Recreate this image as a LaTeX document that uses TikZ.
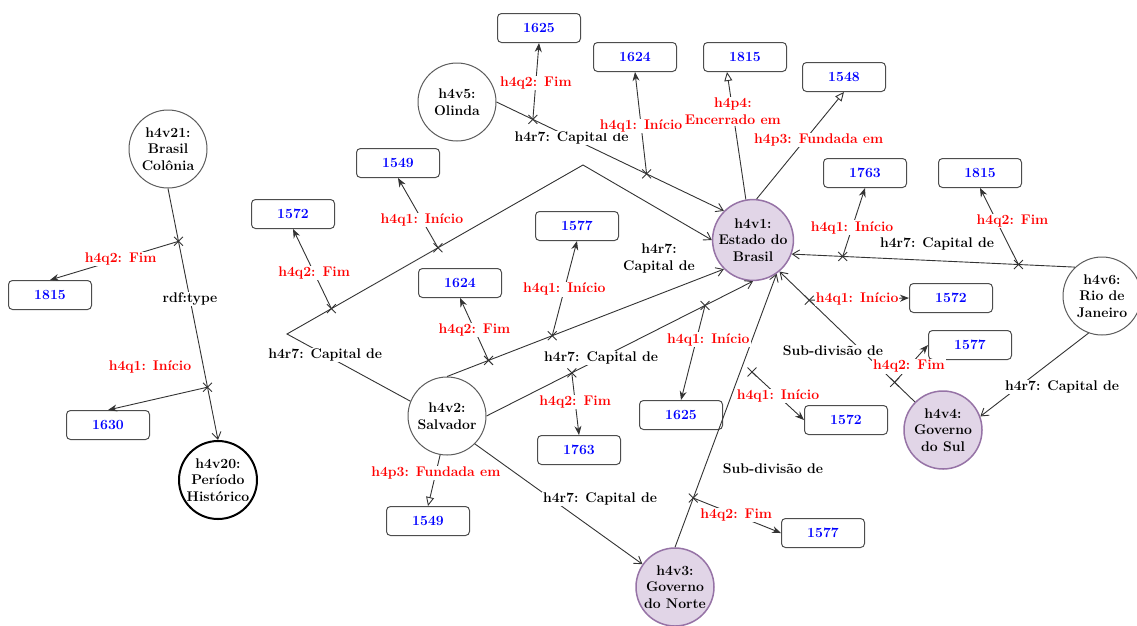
\documentclass[tikz,border=0pt]{standalone}
\usetikzlibrary{arrows.meta,calc,shapes.misc}
\definecolor{edgegray}{HTML}{333333}
\definecolor{boxgray}{HTML}{4D4D4D}
\definecolor{lilac}{HTML}{E1D5E7}
\definecolor{lilacline}{HTML}{9673A6}
\definecolor{valblue}{HTML}{0000FF}
\definecolor{qred}{HTML}{FF0000}

\begin{document}
\begin{tikzpicture}[x=1pt, y=-1pt,
  ent/.style={circle, draw=edgegray!80, line width=1pt, fill=white, minimum size=78pt, inner sep=0pt, align=center, font=\fontsize{14}{16.5}\selectfont\bfseries},
  entp/.style={ent, draw=lilacline, line width=1.5pt, fill=lilac},
  val/.style={draw=boxgray, line width=1pt, rounded corners=4pt, minimum width=83pt, minimum height=29pt, text=valblue, font=\fontsize{14}{16}\selectfont\bfseries},
  lbl/.style={fill=white, inner sep=1pt, align=center, font=\fontsize{14}{17}\selectfont\bfseries},
  qlbl/.style={lbl, text=qred},
  rel/.style={draw=edgegray, line width=0.9pt, -{Straight Barb[length=7pt,width=9pt]}},
  qual/.style={draw=edgegray, line width=0.9pt, -{Stealth[length=9pt,width=7pt]}},
  attr/.style={draw=edgegray, line width=0.9pt, -{Triangle[open,length=9pt,width=8pt]}},
  qmark/.style={cross out, draw=edgegray, line width=0.9pt, minimum size=8pt, inner sep=0pt},
]
\useasboundingbox (0,0) rectangle (1137,625);

% entities
\node[ent] (v21) at (168,149) {h4v21:\\Brasil\\Colônia};
\node[ent, draw=black, line width=2pt] (v20) at (218,480) {h4v20:\\Período\\Histórico};
\node[ent] (v5) at (457,102) {h4v5:\\Olinda};
\node[ent] (v2) at (447,416) {h4v2:\\Salvador};
\node[entp] (v1) at (753,240) {h4v1:\\Estado do\\Brasil};
\node[ent] (v6) at (1102,296) {h4v6:\\Rio de\\Janeiro};
\node[entp] (v4) at (943,430) {h4v4:\\Governo\\do Sul};
\node[entp] (v3) at (675,587) {h4v3:\\Governo\\do Norte};

% values
\node[val] (b1815a) at (50,295) {1815};
\node[val] (b1630) at (108,425) {1630};
\node[val] (b1572a) at (293,214) {1572};
\node[val] (b1549a) at (398,163) {1549};
\node[val] (b1625a) at (539,28) {1625};
\node[val] (b1624a) at (635,57) {1624};
\node[val] (b1815b) at (745,57) {1815};
\node[val] (b1548) at (844,77) {1548};
\node[val] (b1763a) at (865,173) {1763};
\node[val] (b1815c) at (980,173) {1815};
\node[val] (b1577a) at (577,226) {1577};
\node[val] (b1624b) at (460,283) {1624};
\node[val] (b1572b) at (951,298) {1572};
\node[val] (b1577b) at (970,345) {1577};
\node[val] (b1625b) at (681,415) {1625};
\node[val] (b1572c) at (846,420) {1572};
\node[val] (b1763b) at (579,450) {1763};
\node[val] (b1549b) at (428,521) {1549};
\node[val] (b1577c) at (823,533) {1577};

\coordinate (bendA) at (287,334);
\coordinate (bendB) at (583,165);

% relations
\draw[rel] (v21.south) -- node[qmark, pos=.21] (q1) {} node[lbl, pos=.44] (l1) {rdf:type} node[qmark, pos=.79] (q2) {} (v20.north);
\draw[rel] (v5.east) -- node[qmark, pos=.16] (q3) {} node[lbl, pos=.33] (l2) {h4r7: Capital de} node[qmark, pos=.66] (q4) {} (v1.135);
\draw[rel] (v2.158) -- node[lbl, pos=.69] (l3) {h4r7: Capital de} (bendA) -- node[qmark, pos=.15] (q5) {} node[qmark, pos=.51] (q6) {} (bendB) -- (v1.west);
\draw[rel] (v2.north) -- node[qmark, pos=.15] (q7) {} node[qmark, pos=.38] (q8) {} (v1.225);
\draw[rel] (v2.east) -- node[qmark, pos=.32] (q9) {} node[lbl, pos=.43] (l4) {h4r7: Capital de} node[qmark, pos=.82] (q10) {} (v1.south);
\draw[rel] (v2.315) -- (v3.145);
\draw[attr] (v2.260) -- node[qlbl, pos=.35] (l5) {h4p3: Fundada em} (b1549b.north);
\draw[attr] (v1.100) -- node[qlbl, pos=.69] (l6) {h4p4:\\Encerrado em} ([xshift=-18pt]b1815b.south);
\draw[attr] (v1.85) -- node[qlbl, pos=.55, xshift=14pt] (l7) {h4p3: Fundada em} (b1548.south);
\draw[rel] (v6.133) -- node[qmark, pos=.2] (q11) {} node[qmark, pos=.82] (q12) {} (v1.340);
\draw[rel] (v4.135) -- node[qmark, pos=.15] (q13) {} node[qmark, pos=.78] (q14) {} (v1.310);
\draw[rel] (v3.north) -- node[qmark, pos=.18] (q15) {} (v1.305);
\draw[rel] (v6.250) -- (v4.20);
\node[qmark] (q16) at (752,372) {};

% qualifiers
\draw[qual] (q1.center) -- node[qlbl, pos=.45] (l8) {h4q2: Fim} (b1815a.north);
\draw[qual] (q2.center) -- (b1630.north);
\draw[qual] (q3.center) -- node[qlbl, pos=.48] (l9) {h4q2: Fim} (b1625a.south);
\draw[qual] (q4.center) -- node[qlbl, pos=.47] (l10) {h4q1: Início} (b1624a.south);
\draw[qual] (q5.center) -- node[qlbl, pos=.45] (l11) {h4q2: Fim} (b1572a.south);
\draw[qual] (q6.center) -- node[qlbl, pos=.4] (l12) {h4q1: Início} (b1549a.south);
\draw[qual] (q7.center) -- node[qlbl, pos=.49] (l13) {h4q2: Fim} (b1624b.south);
\draw[qual] (q8.center) -- node[qlbl, pos=.49] (l14) {h4q1: Início} (b1577a.south);
\draw[qual] (q9.center) -- node[qlbl, pos=.47] (l15) {h4q2: Fim} (b1763b.north);
\draw[qual] (q10.center) -- node[qlbl, pos=.36, xshift=12pt] (l16) {h4q1: Início} (b1625b.north);
\draw[qual] (q11.center) -- node[qlbl, pos=.57, xshift=16pt] (l17) {h4q2: Fim} (b1815c.south);
\draw[qual] (q12.center) -- node[qlbl, pos=.42] (l18) {h4q1: Início} (b1763a.south);
\draw[qual] (q13.center) -- node[qlbl, pos=.43] (l19) {h4q2: Fim} (b1577b.west);
\draw[qual] (q14.center) -- node[qlbl, pos=.48] (l20) {h4q1: Início} (b1572b.west);
\draw[qual] (q15.center) -- node[qlbl, pos=.49] (l21) {h4q2: Fim} (b1577c.west);
\draw[qual] (q16.center) -- node[qlbl, pos=.5] (l22) {h4q1: Início} (b1572c.west);

% labels off the lines
\node[lbl] (l23) at (659,258) {h4r7:\\Capital de};
\node[lbl] (l24) at (600,499) {h4r7: Capital de};
\node[lbl] (l25) at (937,244) {h4r7: Capital de};
\node[lbl] (l26) at (833,351) {Sub-divisão de};
\node[lbl] (l27) at (773,469) {Sub-divisão de};
\node[lbl] (l28) at (1062,387) {h4r7: Capital de};
\node[qlbl] (l29) at (150,367) {h4q1: Início};
\end{tikzpicture}
\end{document}
